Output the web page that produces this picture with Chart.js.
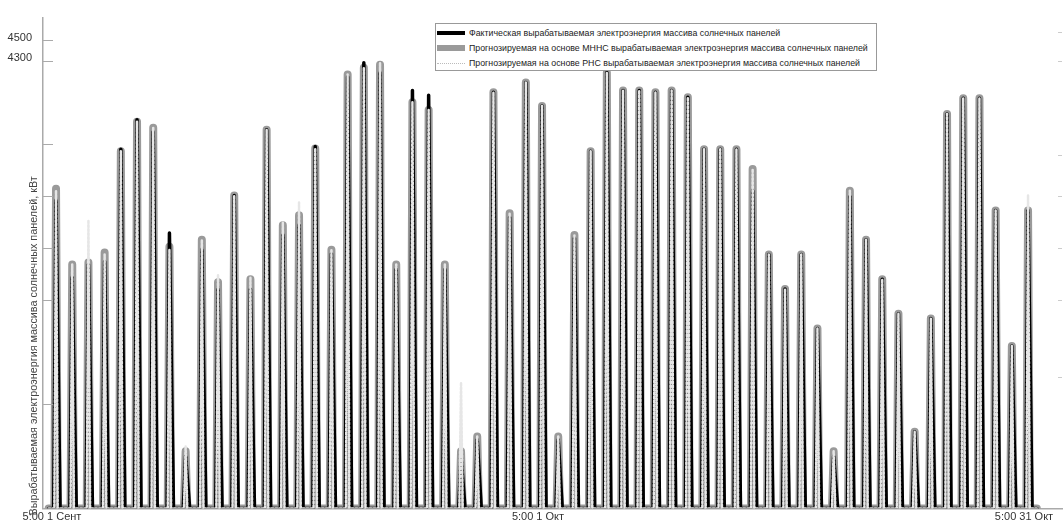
<!DOCTYPE html>
<html><head><meta charset="utf-8">
<script src="https://cdn.jsdelivr.net/npm/chart.js@4.4.0/dist/chart.umd.min.js"></script>
<style>
html,body{margin:0;padding:0;background:#fff;}
#wrap{position:relative;width:1063px;height:526px;}
#legend{position:absolute;left:435px;top:23px;width:442px;height:48px;border:1px solid #999;background:#fff;font-family:"Liberation Sans",Arial,sans-serif;font-size:8.8px;color:#222;box-sizing:border-box;}
.row{position:absolute;left:1px;height:14px;display:flex;align-items:center;white-space:nowrap;}
.sw{width:28px;margin-right:4px;}
</style></head>
<body><div id="wrap"><canvas id="c" width="1063" height="526"></canvas><div id="legend"></div></div>
<script>
// ---- data ----
const seriesNames = [
  'Фактическая вырабатываемая электроэнергия массива солнечных панелей',
  'Прогнозируемая на основе МННС вырабатываемая электроэнергия массива солнечных панелей',
  'Прогнозируемая на основе РНС вырабатываемая электроэнергия массива солнечных панелей'
];
// daily peak output, kW, 1 Sep .. 31 Oct
const actualPeak = [2961,2223,2346,2374,3453,3737,3623,2649,501,2488,2110,3008,2110,3642,2630,2724,3480,2450,4150,4285,4190,2300,4020,3973,2300,501,660,4001,2800,4096,3869,660,2600,3434,4191,4020,4020,4001,4020,3954,3453,3453,3453,3055,2441,2110,2441,1731,501,3000,2583,2204,1873,738,1826,3793,3945,3945,2866,1561,2866];
const mnhsPeak   = [3074,2346,2365,2460,3434,3718,3661,2516,549,2583,2176,3008,2204,3642,2724,2819,3462,2488,4172,4238,4266,2346,3907,3831,2346,549,691,4001,2838,4096,3869,691,2630,3434,4191,4020,4020,4001,4020,3954,3453,3453,3453,3264,2441,2110,2441,1731,549,3055,2583,2204,1873,738,1826,3793,3945,3945,2866,1561,2866];
const rnsPeak    = [3055,2346,2772,2441,3434,3718,3661,2488,596,2583,2251,3008,2224,3642,2750,2942,3462,2488,4172,4238,4285,2346,3907,3831,2346,1211,691,4001,2838,4096,3869,691,2630,3434,4191,4020,4020,4001,4020,3954,3453,3453,3453,3264,2441,2110,2441,1731,549,3055,2583,2204,1873,738,1826,3793,3945,3945,2866,1561,3008];
const peakHour = 11;                       // hour of daily maximum
const actualWindow = [7.5, 17];            // hours with measured output
const forecastWindow = [8.5, 13.5];        // hours with forecast output
const xTickHours  = [5, 725, 1445];        // hours from 1 Sep 00:00
const xTickLabels = ['5:00 1 Сент', '5:00 1 Окт', '5:00 31 Окт'];
const yTickValues = [1000, 2000, 2500, 3000, 3500, 4300, 4500];
const yLabelValues = [4500, 4300];
const rightTickValues = [4580, 4300, 3400, 3000, 2500, 2000, 1260];
const yTitle = 'Вырабатываемая электроэнергия массива солнечных панелей, кВт';

// ---- build series ----
function build(peaks, win){
  const pts = [{x: 0, y: 0}];
  peaks.forEach((p, d) => {
    pts.push({x: d*24 + win[0], y: 0});
    pts.push({x: d*24 + peakHour, y: p});
    pts.push({x: d*24 + win[1], y: 0});
  });
  pts.push({x: peaks.length*24, y: 0});
  return pts;
}

// legend (HTML)
const legendStyles = [
  'height:4px;background:#000;',
  'height:6px;background:#9a9a9a;',
  'height:0;border-top:1px dotted #bbb;'
];
const lg = document.getElementById('legend');
seriesNames.forEach((n, i) => {
  const r = document.createElement('div');
  r.className = 'row'; r.style.top = (2 + i*15) + 'px';
  r.innerHTML = '<div class="sw" style="' + legendStyles[i] + '"></div><span>' + n + '</span>';
  lg.appendChild(r);
});

const deco = {
  id: 'deco',
  afterDraw(chart){
    const {ctx, chartArea: a, scales: {y}} = chart;
    ctx.save();
    ctx.strokeStyle = '#aaa'; ctx.lineWidth = 1;
    yTickValues.forEach(v => {
      const py = Math.round(y.getPixelForValue(v)) + 0.5;
      ctx.beginPath(); ctx.moveTo(a.left, py); ctx.lineTo(a.left + 10, py); ctx.stroke();
    });
    ctx.strokeStyle = '#ccc';
    rightTickValues.forEach(v => {
      const py = Math.round(y.getPixelForValue(v)) + 0.5;
      ctx.beginPath(); ctx.moveTo(a.right - 4, py); ctx.lineTo(a.right, py); ctx.stroke();
    });
    ctx.translate(34, a.bottom + 7);
    ctx.rotate(-Math.PI/2);
    ctx.font = '10.8px "Liberation Sans", Arial, sans-serif';
    ctx.fillStyle = '#444';
    ctx.textAlign = 'left'; ctx.textBaseline = 'middle';
    ctx.fillText(yTitle, 0, 0);
    ctx.restore();
  }
};

Chart.defaults.font.family = '"Liberation Sans", Arial, sans-serif';
new Chart(document.getElementById('c'), {
  type: 'line',
  data: {
    datasets: [
      {label: seriesNames[0], data: build(actualPeak, actualWindow), borderColor: '#000', borderWidth: 3.5, order: 2},
      {label: seriesNames[1], data: build(mnhsPeak, forecastWindow), borderColor: '#9a9a9a', borderWidth: 8, order: 3},
      {label: seriesNames[2], data: build(rnsPeak, forecastWindow), borderColor: '#e6e6e6', borderWidth: 2.5, borderDash: [2, 2], order: 1}
    ]
  },
  options: {
    responsive: false, animation: false, devicePixelRatio: 1,
    layout: {padding: {top: 14, right: 1, left: 0, bottom: 0}},
    elements: {point: {radius: 0}, line: {tension: 0, borderJoinStyle: 'round', borderCapStyle: 'round', fill: false}},
    plugins: {legend: {display: false}, tooltip: {enabled: false}},
    scales: {
      x: {
        type: 'linear', min: -8.3, max: 1501.3,
        afterBuildTicks: s => { s.ticks = xTickHours.map(v => ({value: v})); },
        ticks: {callback: v => xTickLabels[xTickHours.indexOf(v)], padding: 2, font: {size: 11}, color: '#333', maxRotation: 0, autoSkip: false},
        grid: {drawOnChartArea: false, drawTicks: false},
        border: {color: '#aaa', width: 1.5},
        afterFit: s => { s.height = 13; }
      },
      y: {
        type: 'linear', min: 0, max: 4720,
        afterBuildTicks: s => { s.ticks = yLabelValues.map(v => ({value: v})); },
        ticks: {callback: v => String(v), padding: 11, labelOffset: -3, font: {size: 11}, color: '#333'},
        grid: {drawOnChartArea: false, drawTicks: false},
        border: {color: '#aaa', width: 1.5},
        afterFit: s => { s.width = 43; }
      }
    }
  },
  plugins: [deco]
});
</script>
</body></html>
